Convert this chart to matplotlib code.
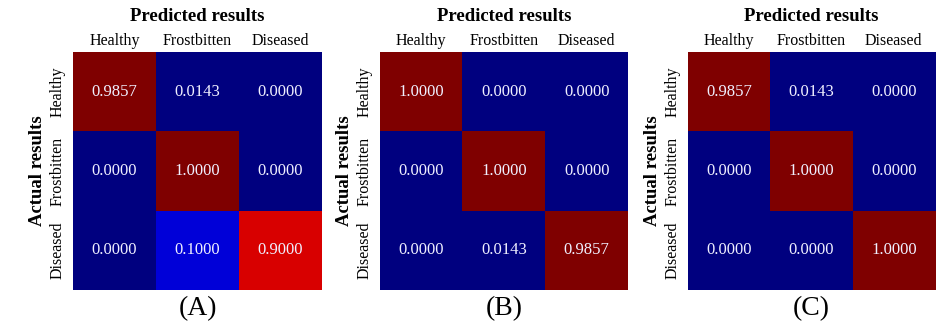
import numpy as np
import matplotlib.pyplot as plt

plt.rcParams['font.family'] = ['Liberation Serif', 'DejaVu Serif']

classes = ['Healthy', 'Frostbitten', 'Diseased']
panel_tags = ['(A)', '(B)', '(C)']

cm_a = [[0.9857, 0.0143, 0.0000],
        [0.0000, 1.0000, 0.0000],
        [0.0000, 0.1000, 0.9000]]
cm_b = [[1.0000, 0.0000, 0.0000],
        [0.0000, 1.0000, 0.0000],
        [0.0000, 0.0143, 0.9857]]
cm_c = [[0.9857, 0.0143, 0.0000],
        [0.0000, 1.0000, 0.0000],
        [0.0000, 0.0000, 1.0000]]

W, H = 951, 333
fig = plt.figure(figsize=(W/100, H/100), dpi=100)

# stepped jet, so small off-diagonal values stay dark blue
cmap = plt.get_cmap('jet', 14)

# heatmap boxes in pixels: left, top, right, bottom
boxes = [(73, 52, 322, 290), (380, 52, 628, 290), (688, 52, 935, 290)]

for cm, tag, (x0, y0, x1, y1) in zip([cm_a, cm_b, cm_c], panel_tags, boxes):
    ax = fig.add_axes([x0/W, 1-y1/H, (x1-x0)/W, (y1-y0)/H])
    m = np.array(cm)
    ax.imshow(m, cmap=cmap, vmin=0, vmax=1, aspect='auto')
    for i in range(3):
        for j in range(3):
            ax.text(j, i, '%.4f' % m[i, j], ha='center', va='center',
                    color='#f0f0ff', fontsize=12)
    ax.xaxis.tick_top()
    ax.set_xticks(range(3))
    ax.set_xticklabels(classes, fontsize=11.5)
    ax.set_yticks(range(3))
    ax.set_yticklabels(classes, fontsize=11.5, rotation=90, va='center')
    ax.tick_params(length=0, pad=2)
    ax.tick_params(axis='y', pad=5)
    for s in ax.spines.values():
        s.set_visible(False)
    ax.set_title('Predicted results', fontsize=13.5, fontweight='bold', pad=22)
    ax.set_ylabel('Actual results', fontsize=13.5, fontweight='bold', labelpad=3)
    ax.text(0.5, -0.08, tag, transform=ax.transAxes, ha='center', va='center',
            fontsize=20)

plt.savefig('out.png', dpi=100)
